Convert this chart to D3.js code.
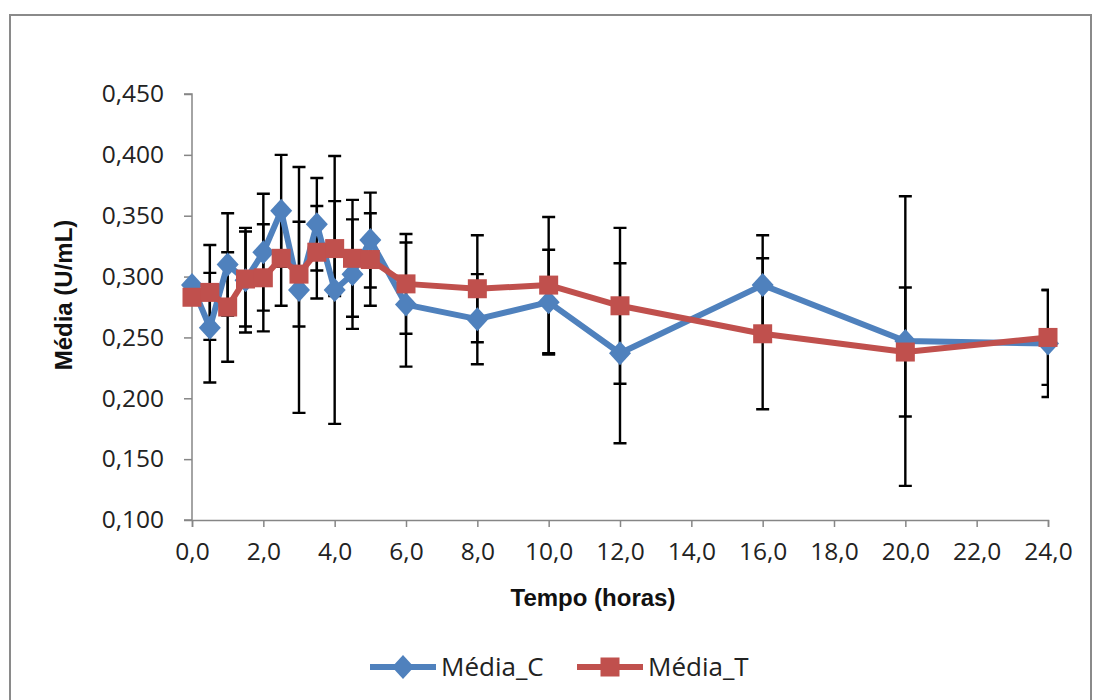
<!DOCTYPE html>
<html><head><meta charset="utf-8">
<script src="https://cdn.jsdelivr.net/npm/d3@7"></script>
<style>body{margin:0;background:#fff;} svg{display:block;}</style>
</head><body>
<svg id="c" width="1094" height="700"></svg>
<script>
const times = [0,0.5,1,1.5,2,2.5,3,3.5,4,4.5,5,6,8,10,12,16,20,24];
const mediaC = [0.293,0.258,0.310,0.297,0.320,0.354,0.289,0.343,0.289,0.302,0.330,0.277,0.265,0.279,0.237,0.293,0.247,0.245];
const errC   = [0,0.045,0.042,0.043,0.048,0.046,0.101,0.038,0.110,0.045,0.039,0.051,0.037,0.043,0.074,0.041,0.119,0.044];
const mediaT = [0.283,0.287,0.275,0.298,0.299,0.315,0.302,0.320,0.323,0.315,0.314,0.294,0.290,0.293,0.276,0.253,0.238,0.250];
const errT   = [0,0.039,0.045,0.039,0.044,0.039,0.043,0.038,0.039,0.048,0.038,0.041,0.044,0.056,0.064,0.062,0.053,0.039];
const xTicks = [0,2,4,6,8,10,12,14,16,18,20,22,24];
const yTicks = [0.100,0.150,0.200,0.250,0.300,0.350,0.400,0.450];
const seriesNames = ["Média_C","Média_T"];
const colors = ["#4F81BD","#C0504D"];

const svg = d3.select("#c");
const fmt = d => d.toFixed(1).replace(".", ",");
const fmtY = d => d.toFixed(3).replace(".", ",");
const x = d3.scaleLinear().domain([0,24]).range([192,1048]);
const y = d3.scaleLinear().domain([0.1,0.45]).range([520,94]);
const font = "'Open Sans', sans-serif";

// outer frame
svg.append("rect").attr("x",10).attr("y",15).attr("width",1081).attr("height",700)
  .attr("fill","none").attr("stroke","#8a8a8a").attr("stroke-width",2);

// axes
const yAxis = d3.axisLeft(y).tickValues(yTicks).tickFormat(fmtY).tickSize(8).tickPadding(20);
const gy = svg.append("g").attr("transform",`translate(${x(0)},0)`).call(yAxis);
const xAxis = d3.axisBottom(x).tickValues(xTicks).tickFormat(fmt).tickSize(7).tickPadding(16);
const gx = svg.append("g").attr("transform",`translate(0,${y(0.1)})`).call(xAxis);
[gy,gx].forEach(g=>{
  g.select(".domain").attr("stroke","#868686").attr("stroke-width",1.5);
  g.selectAll(".tick line").attr("stroke","#868686").attr("stroke-width",1.5);
  g.selectAll(".tick text").attr("fill","#222").style("font-family",font).style("font-size","24.5px");
});
gy.select(".domain").attr("d",`M-8,${y(0.45)}H0V${y(0.1)}H-8`);

// titles
svg.append("text").attr("x",593).attr("y",606).attr("text-anchor","middle")
  .style("font-family","'Liberation Sans', Arial, sans-serif").style("font-weight","bold").style("font-size","24px")
  .attr("fill","#111").text("Tempo (horas)");
svg.append("text").attr("transform","translate(72,295) rotate(-90)").attr("text-anchor","middle")
  .style("font-family","'Liberation Sans', Arial, sans-serif").style("font-weight","bold").style("font-size","24px")
  .attr("fill","#111").text("Média (U/mL)");

// clip for error bars
svg.append("clipPath").attr("id","pa").append("rect")
  .attr("x",x(0)).attr("y",0).attr("width",x(24)-x(0)+1).attr("height",700);

const series = [
  {name:seriesNames[0], vals:mediaC, err:errC, color:colors[0], shape:"diamond"},
  {name:seriesNames[1], vals:mediaT, err:errT, color:colors[1], shape:"square"}
];
const eb = svg.append("g").attr("clip-path","url(#pa)");
series.forEach(s=>{
  times.forEach((t,i)=>{
    if(s.err[i]<=0) return;
    const cx = x(t), y1 = y(s.vals[i]+s.err[i]), y2 = y(s.vals[i]-s.err[i]);
    eb.append("path").attr("d",`M${cx},${y1}V${y2}M${cx-6.5},${y1}H${cx+6.5}M${cx-6.5},${y2}H${cx+6.5}`)
      .attr("stroke","#000").attr("stroke-width",2.4).attr("fill","none");
  });
});
const line = d3.line().x((d,i)=>x(times[i])).y(d=>y(d));
function marker(g, shape, cx, cy, color){
  if(shape==="diamond"){
    g.append("path").attr("d",`M${cx},${cy-12}L${cx+11},${cy}L${cx},${cy+12}L${cx-11},${cy}Z`).attr("fill",color);
  } else {
    g.append("rect").attr("x",cx-9.5).attr("y",cy-9.5).attr("width",19).attr("height",19).attr("fill",color);
  }
}
series.forEach(s=>{
  svg.append("path").datum(s.vals).attr("d",line).attr("fill","none")
    .attr("stroke",s.color).attr("stroke-width",6).attr("stroke-linejoin","round");
  const mg = svg.append("g");
  s.vals.forEach((v,i)=>marker(mg,s.shape,x(times[i]),y(v),s.color));
});

// legend
const leg = [{x0:370,x1:436,tx:441},{x0:577,x1:643,tx:648}];
series.forEach((s,k)=>{
  const L = leg[k], ly = 667;
  svg.append("line").attr("x1",L.x0).attr("x2",L.x1).attr("y1",ly).attr("y2",ly)
    .attr("stroke",s.color).attr("stroke-width",6);
  marker(svg,s.shape,(L.x0+L.x1)/2,ly,s.color);
  svg.append("text").attr("x",L.tx).attr("y",ly+9).style("font-family",font).style("font-size","26px")
    .attr("fill","#222").text(s.name);
});
</script>
</body></html>
